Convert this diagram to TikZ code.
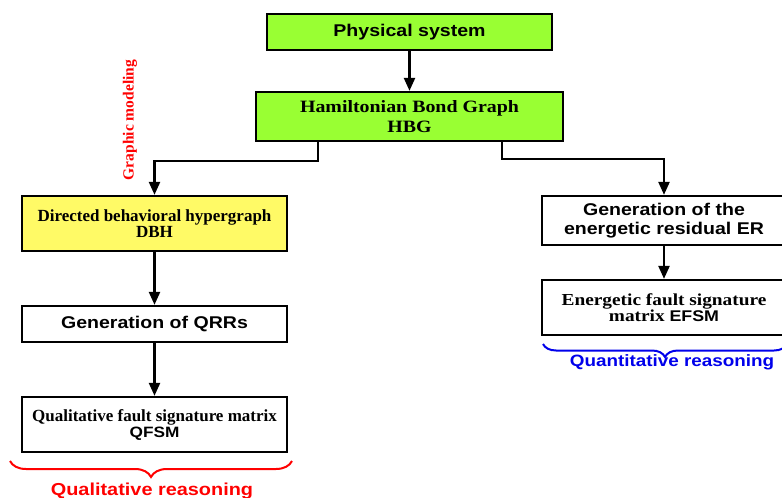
\documentclass[tikz,border=0pt]{standalone}
\usepackage{fontspec}
\setmainfont{Liberation Serif}
\setsansfont{Liberation Sans}
\newfontfamily\arialw[FakeStretch=1.15]{Liberation Sans}
\newfontfamily\timesw[FakeStretch=1.15]{Liberation Serif}
\usetikzlibrary{arrows.meta,decorations.pathreplacing}
\definecolor{hbgreen}{RGB}{153,255,51}
\definecolor{dbhyellow}{RGB}{255,250,102}
\definecolor{qblue}{RGB}{0,0,235}
\tikzset{
  box/.style={draw=black, line width=2.3pt, minimum width=265pt, minimum height=36pt,
    inner sep=0pt, align=center, anchor=center},
  arr/.style={line width=2.3pt, -{Triangle[length=13pt,width=11pt]}},
  sanslbl/.style={font=\fontsize{17}{19}\selectfont\arialw\bfseries},
  seriflbl/.style={font=\fontsize{17}{16}\selectfont\rmfamily\bfseries},
  brc/.style={decorate, line width=2pt},
}
\begin{document}
\begin{tikzpicture}[x=1pt,y=-1pt]
\useasboundingbox (0,0) rectangle (782,498);
\clip (0,0) rectangle (782,498);

\node[box, sanslbl, fill=hbgreen, minimum width=285pt, minimum height=36pt] (phys) at (409.5,32) {Physical system};
\node[box, fill=hbgreen, minimum width=307pt, minimum height=49pt,
  font=\fontsize{17.3}{19.5}\selectfont\timesw\bfseries] (hbg) at (409.5,116.5) {Hamiltonian Bond Graph\\HBG};

\node[box, seriflbl, fill=dbhyellow, minimum height=55pt] (dbh) at (154.5,223.5) {Directed behavioral hypergraph\\DBH};
\node[box, sanslbl, minimum height=36pt] (qrr) at (154.5,324) {Generation of QRRs};
\node[box, seriflbl, minimum height=55pt] (qfsm) at (154.5,424.5) {Qualitative fault signature matrix\\{\fontsize{15}{16}\selectfont\arialw\bfseries QFSM}};

\node[box, sanslbl, minimum width=244pt, minimum height=49pt] (er) at (664,220.5) {Generation of the\\energetic residual ER};
\node[box, minimum width=244pt, minimum height=55pt,
  font=\fontsize{16.8}{16.5}\selectfont\timesw\bfseries] (efsm) at (664,307.5) {Energetic fault signature\\matrix {\fontsize{15.5}{16}\selectfont\arialw\bfseries EFSM}};

\node[rotate=90, red, font=\fontsize{15.5}{16}\selectfont\rmfamily\bfseries] (gm) at (130,120) {Graphic modeling};

\draw[arr] (phys) -- (hbg);
\draw[arr] ([xshift=-91.5pt]hbg.south) -- ++(0,19) -| (dbh.north);
\draw[arr] ([xshift=92.5pt]hbg.south) -- ++(0,17) -| (er.north);
\draw[arr] (dbh) -- (qrr);
\draw[arr] (qrr) -- (qfsm);
\draw[arr] (er) -- (efsm);

\draw[brc, red, decoration={brace, mirror, amplitude=16pt}] (10,461) -- (292,461);
\node[red, anchor=base, font=\fontsize{17.3}{18}\selectfont\arialw\bfseries] (qual) at (152,495) {Qualitative reasoning};

\draw[brc, qblue, decoration={brace, mirror, amplitude=13pt}] (543,344) -- (787,344);
\node[qblue, anchor=base, font=\fontsize{16.4}{18}\selectfont\arialw\bfseries] (quant) at (672,366) {Quantitative reasoning};
\end{tikzpicture}
\end{document}
